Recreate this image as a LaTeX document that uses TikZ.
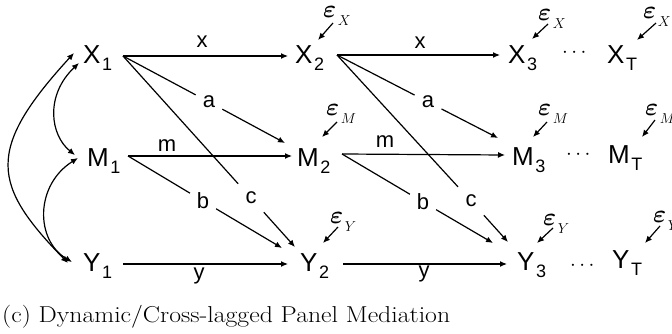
\documentclass[tikz,border=0pt]{standalone}
\usepackage{amsmath}
\usepackage{fontspec}
\newfontfamily\sansf{Liberation Sans}
\usetikzlibrary{arrows.meta}
\newcommand{\vsub}[2]{#1\kern1.5pt\raisebox{-7pt}{\fontsize{18}{18}\selectfont #2}}
\newcommand{\epslab}[1]{{\fontsize{24}{24}\selectfont$\boldsymbol{\varepsilon}$}\kern1.5pt\raisebox{-8pt}{\fontsize{15}{15}\selectfont$#1$}}
\begin{document}
\begin{tikzpicture}[x=1pt,y=-1pt,
  var/.style={inner sep=0pt, text height=18pt, text depth=2pt, anchor=base west, font=\sansf\fontsize{26}{26}\selectfont},
  lab/.style={font=\sansf\fontsize{22}{22}\selectfont, inner sep=0pt, anchor=base},
  gap/.style={circle, minimum size=30pt, inner sep=0pt, font=\sansf\fontsize{22}{22}\selectfont},
  eps/.style={inner sep=0pt, anchor=base west},
  dts/.style={inner sep=0pt, anchor=base, font=\fontsize{21}{21}\selectfont},
  arr/.style={line width=1.2pt, -{Latex[length=7pt,width=6pt]}},
  ln/.style={line width=1.2pt},
  dbl/.style={line width=1.2pt, {Latex[length=7pt,width=6pt]}-{Latex[length=7pt,width=6pt]}},
]
\useasboundingbox (0,0) rectangle (672,334);
% variables
\node[var] (X1) at (83,64) {\vsub{X}{1}};
\node[var] (X2) at (295,64) {\vsub{X}{2}};
\node[var] (X3) at (508,64) {\vsub{X}{3}};
\node[var] (XT) at (607,64) {\vsub{X}{T}};
\node[var] (M1) at (87,167) {\vsub{M}{1}};
\node[var] (M2) at (297,167) {\vsub{M}{2}};
\node[var] (M3) at (512,165) {\vsub{M}{3}};
\node[var] (MT) at (608,164) {\vsub{M}{T}};
\node[var] (Y1) at (83,271) {\vsub{Y}{1}};
\node[var] (Y2) at (300,271) {\vsub{Y}{2}};
\node[var] (Y3) at (517,270) {\vsub{Y}{3}};
\node[var] (YT) at (612,268) {\vsub{Y}{T}};
% dots
\node[dts] (dX) at (576,58) {$\cdots$};
\node[dts] (dM) at (580,160) {$\cdots$};
\node[dts] (dY) at (584,270) {$\cdots$};
% errors
\node[eps] (eX2) at (323,18) {\epslab{X}};
\node[eps] (eX3) at (538,21) {\epslab{X}};
\node[eps] (eXT) at (643,19) {\epslab{X}};
\node[eps] (eM2) at (326,116) {\epslab{M}};
\node[eps] (eM3) at (538,116) {\epslab{M}};
\node[eps] (eMT) at (645,116) {\epslab{M}};
\node[eps] (eY2) at (330,223) {\epslab{Y}};
\node[eps] (eY3) at (543,225) {\epslab{Y}};
\node[eps] (eYT) at (653,222) {\epslab{Y}};
\draw[arr] ([shift={(10,5)}]eX2.base west) -- ([shift={(23,-24)}]X2.base west);
\draw[arr] ([shift={(10,3)}]eX3.base west) -- ([shift={(24,-25)}]X3.base west);
\draw[arr] ([shift={(13,4)}]eXT.base west) -- ([shift={(30,-24)}]XT.base west);
\draw[arr] ([shift={(11,6)}]eM2.base west) -- ([shift={(25,-30)}]M2.base west);
\draw[arr] ([shift={(9,6)}]eM3.base west) -- ([shift={(21,-28)}]M3.base west);
\draw[arr] ([shift={(10,4)}]eMT.base west) -- ([shift={(34,-27)}]MT.base west);
\draw[arr] ([shift={(8,4)}]eY2.base west) -- ([shift={(23,-28)}]Y2.base west);
\draw[arr] ([shift={(10,3)}]eY3.base west) -- ([shift={(20,-27)}]Y3.base west);
\draw[arr] ([shift={(7,4)}]eYT.base west) -- ([shift={(33,-25)}]YT.base west);
% path labels
\node[lab] (lx1) at (202,48) {x};
\node[lab] (lx2) at (420,49) {x};
\node[lab] (lm1) at (167,152) {m};
\node[lab] (lm2) at (385,148) {m};
\node[lab] (ly1) at (199,279) {y};
\node[lab] (ly2) at (424,277) {y};
\node[gap] (la1) at (209,102) {a};
\node[gap] (lb1) at (203,201) {b};
\node[gap, minimum size=38pt] (lc1) at (251,198) {c};
\node[gap] (la2) at (428,102) {a};
\node[gap] (lb2) at (423,202) {b};
\node[gap, minimum size=38pt] (lc2) at (471,201) {c};
% wave 1 -> 2
\draw[arr] ([shift={(40,-8)}]X1.base west) -- ([shift={(-7,-8)}]X2.base west);
\draw[ln] ([shift={(40,-8)}]X1.base west) -- (la1);
\draw[arr] (la1) -- ([shift={(-12,-24)}]M2.base west);
\draw[ln] ([shift={(40,-8)}]X1.base west) -- (lc1);
\draw[arr] (lc1) -- ([shift={(-5,-24)}]Y2.base west);
\draw[arr] ([shift={(41,-11)}]M1.base west) -- ([shift={(-5,-11)}]M2.base west);
\draw[ln] ([shift={(41,-11)}]M1.base west) -- (lb1);
\draw[arr] (lb1) -- ([shift={(-18,-23)}]Y2.base west);
\draw[arr] ([shift={(40,-7)}]Y1.base west) -- ([shift={(-12,-7)}]Y2.base west);
% wave 2 -> 3
\draw[arr] ([shift={(42,-9)}]X2.base west) -- ([shift={(-8,-9)}]X3.base west);
\draw[ln] ([shift={(42,-9)}]X2.base west) -- (la2);
\draw[arr] (la2) -- ([shift={(-14,-27)}]M3.base west);
\draw[ln] ([shift={(42,-9)}]X2.base west) -- (lc2);
\draw[arr] (lc2) -- ([shift={(-9,-28)}]Y3.base west);
\draw[arr] ([shift={(45,-13)}]M2.base west) -- ([shift={(-7,-10)}]M3.base west);
\draw[ln] ([shift={(45,-13)}]M2.base west) -- (lb2);
\draw[arr] (lb2) -- ([shift={(-24,-27)}]Y3.base west);
\draw[arr] ([shift={(43,-7)}]Y2.base west) -- ([shift={(-10,-6)}]Y3.base west);
% correlations at wave 1
\draw[dbl] ([shift={(-9,-11)}]X1.base west) .. controls (-15,150) and (-8,185) .. ([shift={(-15,-8)}]Y1.base west);
\draw[dbl] ([shift={(-4,-1)}]X1.base west) .. controls (45,95) and (50,135) .. ([shift={(-12,-12)}]M1.base west);
\draw[dbl] ([shift={(-9,-9)}]M1.base west) .. controls (35,185) and (35,240) .. ([shift={(-11,-9)}]Y1.base west);
% caption
\node[anchor=base west, inner sep=0pt, font=\fontsize{23}{23}\selectfont] (cap) at (2,322) {\scalebox{1.12}[1]{(c) Dynamic/Cross-lagged Panel Mediation}};
\end{tikzpicture}
\end{document}
